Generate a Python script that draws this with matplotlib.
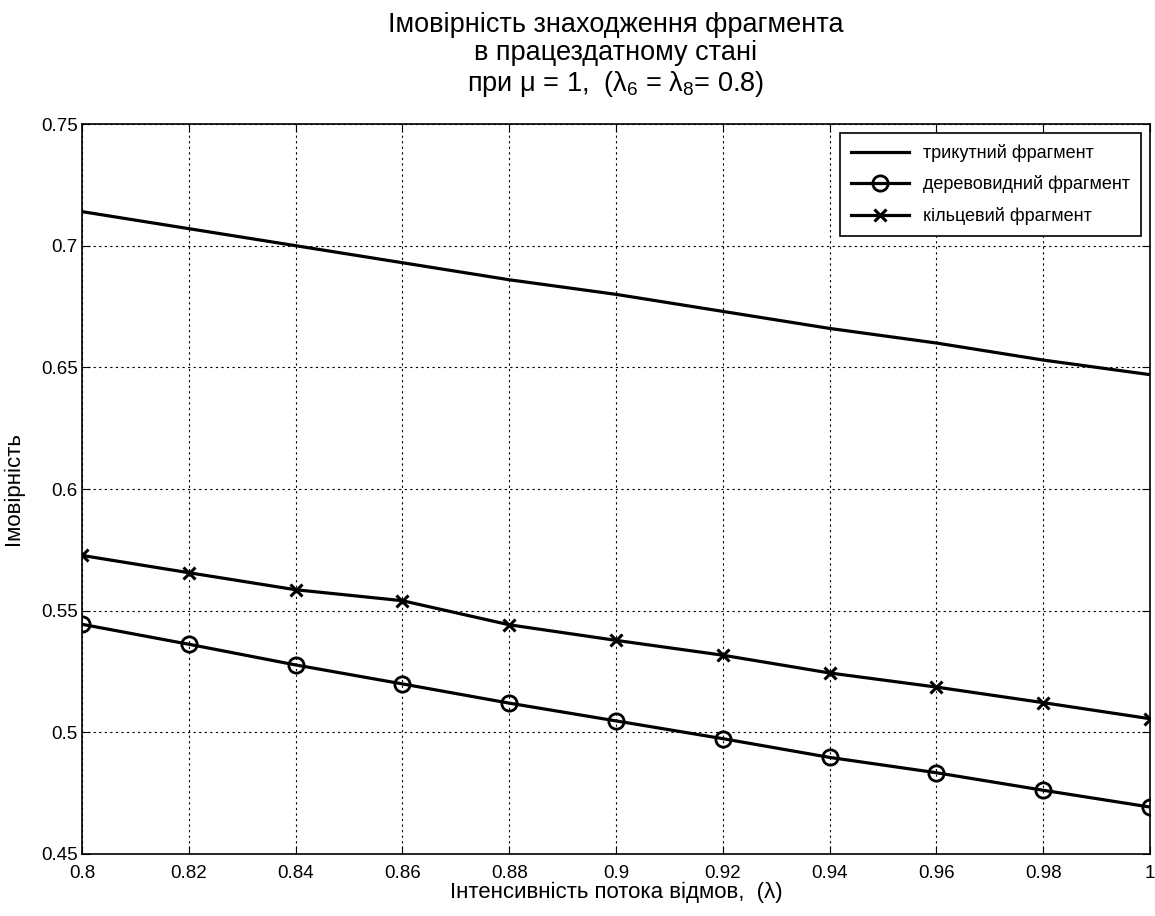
import numpy as np
import matplotlib
matplotlib.use("Agg")
import matplotlib.pyplot as plt

# data
lam = [0.80, 0.82, 0.84, 0.86, 0.88, 0.90, 0.92, 0.94, 0.96, 0.98, 1.00]
p_tri = [0.714, 0.707, 0.700, 0.693, 0.686, 0.680, 0.673, 0.666, 0.660, 0.653, 0.647]
p_tree = [0.5444, 0.5362, 0.5277, 0.5199, 0.5120, 0.5047, 0.4974, 0.4897, 0.4834, 0.4762, 0.4693]
p_ring = [0.5727, 0.5656, 0.5586, 0.5541, 0.5442, 0.5378, 0.5317, 0.5244, 0.5186, 0.5122, 0.5056]

labels = ['трикутний фрагмент', 'деревовидний фрагмент', 'кільцевий фрагмент']
xticks = [0.8, 0.82, 0.84, 0.86, 0.88, 0.9, 0.92, 0.94, 0.96, 0.98, 1]
yticks = [0.45, 0.5, 0.55, 0.6, 0.65, 0.7, 0.75]

plt.rcParams['font.family'] = ['Liberation Sans', 'DejaVu Sans']
plt.rcParams['mathtext.fontset'] = 'custom'
plt.rcParams['mathtext.rm'] = 'Liberation Sans'
plt.rcParams['mathtext.it'] = 'Liberation Sans'
plt.rcParams['mathtext.default'] = 'rm'

fig = plt.figure(figsize=(11.55, 9.16), dpi=100)
ax = fig.add_axes([0.071, 0.0677, 0.9246, 0.7969])

ax.plot(lam, p_tri, color='k', lw=2.3, label=labels[0])
ax.plot(lam, p_tree, color='k', lw=2.3, marker='o', ms=11, mfc='none', mew=2, label=labels[1])
ax.plot(lam, p_ring, color='k', lw=2.3, marker='x', ms=9, mew=2.2, label=labels[2])

ax.set_xlim(0.8, 1.0)
ax.set_ylim(0.45, 0.75)
ax.set_xticks(xticks)
ax.set_xticklabels(['%g' % v for v in xticks])
ax.set_yticks(yticks)
ax.set_yticklabels(['%g' % v for v in yticks])
ax.tick_params(direction='in', top=True, right=True, labelsize=13.5, length=6, pad=3)
ax.tick_params(axis='x', pad=8)
ax.grid(True, color='k', linestyle=(0, (2, 3)), linewidth=0.8)
for s in ax.spines.values():
    s.set_linewidth(1.2)

ax.set_xlabel('Інтенсивність потока відмов,  (λ)', fontsize=16, labelpad=0)
ax.set_ylabel('Імовірність', fontsize=16, labelpad=12)
ax.set_title('Імовірність знаходження фрагмента\nв працездатному стані\nпри μ = 1,  (λ$_6$ = λ$_8$= 0.8)',
             fontsize=19.5, linespacing=1.1, pad=24)

leg = ax.legend(loc='upper right', fontsize=13, fancybox=False, framealpha=1,
                edgecolor='k', handlelength=3.2, labelspacing=0.75,
                borderpad=0.6, borderaxespad=0.5)
leg.get_frame().set_linewidth(1.2)

fig.savefig('out.png', dpi=100)
